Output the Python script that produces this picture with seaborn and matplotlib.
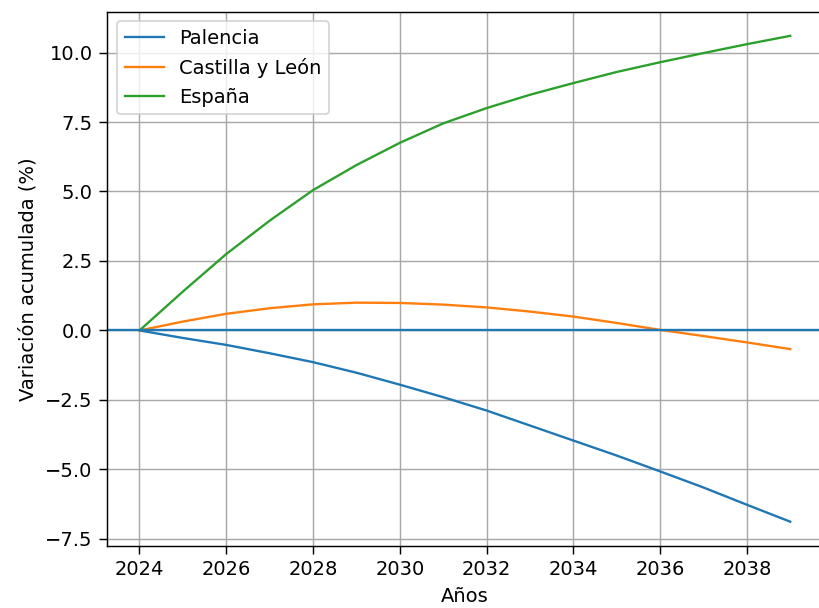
import matplotlib
matplotlib.use("Agg")
import matplotlib.pyplot as plt
import seaborn as sns
import pandas as pd

years = list(range(2024, 2040))
palencia = [0, -0.27, -0.52, -0.82, -1.14, -1.52, -1.95, -2.40, -2.88, -3.42, -3.96, -4.50, -5.07, -5.65, -6.27, -6.88]
castilla = [0, 0.32, 0.60, 0.80, 0.94, 1.00, 0.99, 0.93, 0.83, 0.68, 0.50, 0.27, 0.02, -0.20, -0.43, -0.67]
espana = [0, 1.40, 2.75, 3.95, 5.05, 5.95, 6.75, 7.45, 8.00, 8.48, 8.90, 9.30, 9.65, 9.98, 10.30, 10.60]
series_names = ["Palencia", "Castilla y León", "España"]

df = pd.DataFrame({
    "Año": years * 3,
    "valor": palencia + castilla + espana,
    "serie": sum([[n] * len(years) for n in series_names], []),
})

plt.rcParams["font.size"] = 10.8
plt.rcParams["xtick.major.size"] = 4.5
plt.rcParams["ytick.major.size"] = 4.5
plt.rcParams["grid.color"] = "#a8a8a8"

fig = plt.figure(figsize=(819 / 130, 608 / 130), dpi=130)
ax = fig.add_axes([0.1306, 0.102, 0.874, 0.879])

colors = ["tab:blue", "tab:orange", "tab:green"]
for name, c in zip(series_names, colors):
    sub = df[df["serie"] == name]
    sns.lineplot(data=sub, x="Año", y="valor", color=c, label=name, ax=ax, linewidth=1.3)

ax.axhline(0, color="tab:blue", linewidth=1.3)
ax.set_xlabel("Años")
ax.set_ylabel("Variación acumulada (%)")
ax.set_xticks(range(2024, 2040, 2))
ax.grid(True)
ax.legend(loc="upper left")
fig.savefig("out.png", dpi=130)
